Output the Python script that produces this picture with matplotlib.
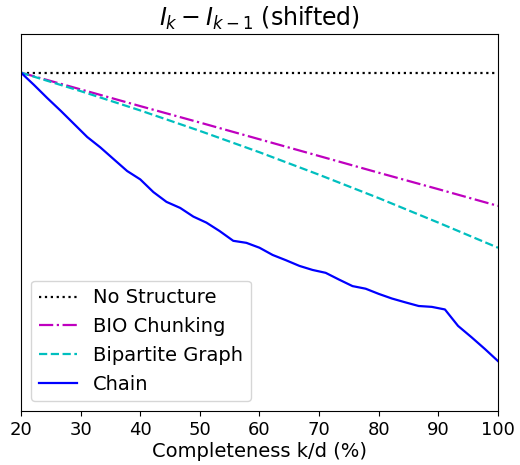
import matplotlib
matplotlib.use('Agg')
import matplotlib.pyplot as plt

# completeness grid (k/d in %)
k_chain = [20.0, 22.2, 24.4, 26.7, 28.9, 31.1, 33.3, 35.6, 37.8, 40.0,
           42.2, 44.4, 46.7, 48.9, 51.1, 53.3, 55.6, 57.8, 60.0, 62.2,
           64.4, 66.7, 68.9, 71.1, 73.3, 75.6, 77.8, 80.0, 82.2, 84.4,
           86.7, 88.9, 91.1, 93.3, 95.6, 97.8, 100.0]
chain = [0.0, -4.3, -8.8, -13.3, -17.8, -22.3, -25.9, -30.1, -34.1, -37.0,
         -41.4, -44.8, -46.9, -49.9, -52.0, -54.9, -58.3, -59.0, -60.7, -63.2,
         -65.0, -67.0, -68.4, -69.4, -71.7, -74.0, -74.9, -76.7, -78.3, -79.6,
         -80.9, -81.2, -82.1, -87.8, -91.8, -95.8, -100.0]

k_coarse = [20, 30, 40, 50, 60, 70, 80, 90, 100]
no_structure = [0, 0, 0, 0, 0, 0, 0, 0, 0]
bio_chunking = [0.0, -5.8, -11.6, -17.3, -23.1, -28.9, -34.7, -40.4, -46.2]
bipartite = [0.0, -6.4, -13.1, -20.2, -27.6, -35.4, -43.5, -52.0, -60.7]

xticks = [20, 30, 40, 50, 60, 70, 80, 90, 100]

plt.rcParams['font.family'] = 'DejaVu Sans'
plt.rcParams['font.size'] = 13

fig = plt.figure(figsize=(5.2, 4.65), dpi=100)
ax = fig.add_axes([21 / 520, 54 / 465, 477 / 520, 377 / 465])

ax.plot(k_coarse, no_structure, 'k:', lw=1.6, label='No Structure')
ax.plot(k_coarse, bio_chunking, 'm-.', lw=1.6, label='BIO Chunking')
ax.plot(k_coarse, bipartite, 'c--', lw=1.6, label='Bipartite Graph')
ax.plot(k_chain, chain, 'b-', lw=1.6, label='Chain')

ax.set_xlim(20, 100)
ax.set_ylim(-117.3, 13.4)
ax.set_xticks(xticks)
ax.set_yticks([])
ax.tick_params(axis='x', labelsize=13)
ax.set_xlabel('Completeness k/d (%)', fontsize=14, labelpad=2)
ax.set_title('$I_k - I_{k-1}$ (shifted)', fontsize=17)
ax.legend(loc='lower left', fontsize=14)

fig.savefig('out.png', dpi=100)
